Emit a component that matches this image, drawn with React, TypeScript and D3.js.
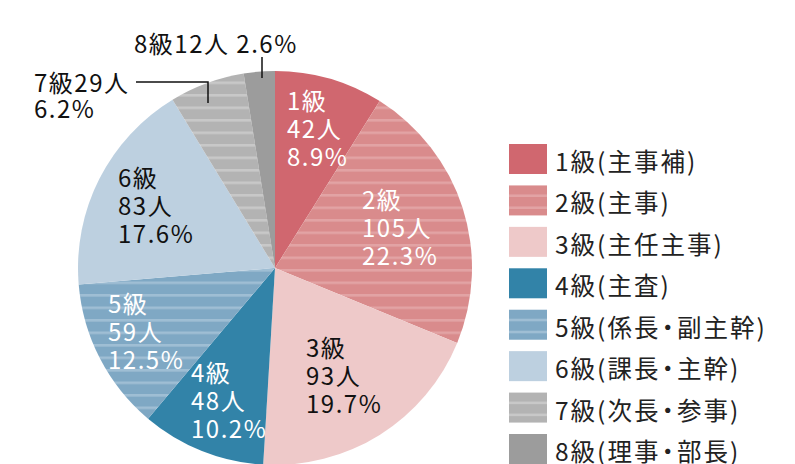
import React from "react";
import * as d3 from "d3";

const grades = ["1級", "2級", "3級", "4級", "5級", "6級", "7級", "8級"];
const counts = [42, 105, 93, 48, 59, 83, 29, 12];
const percents = ["8.9%", "22.3%", "19.7%", "10.2%", "12.5%", "17.6%", "6.2%", "2.6%"];
const legendLabels = [
  "1級(主事補)",
  "2級(主事)",
  "3級(主任主事)",
  "4級(主査)",
  "5級(係長・副主幹)",
  "6級(課長・主幹)",
  "7級(次長・参事)",
  "8級(理事・部長)",
];

const baseColors = ["#d0676f", "#d98b8c", "#eec9c9", "#3283a8", "#7fa8c4", "#bdd0e0", "#b3b3b3", "#9c9c9c"];
const stripeColors = [null, "#e2a3a4", null, null, "#9fbed4", null, "#c8c8c8", null];
const labelColors = ["#fff", "#fff", "#111", "#fff", "#fff", "#111", "#111", "#111"];

const W = 795;
const H = 464;
const cx = 275;
const cy = 268;
const R = 197;
const FONT = "'Noto Sans CJK JP', 'Noto Sans', sans-serif";

// inner label anchor positions (left x, first baseline) for slices 0..5
const innerPos: [number, number][] = [
  [287, 110],
  [362, 209],
  [306, 357],
  [191, 382],
  [108, 313],
  [118, 187],
];
const LH = 28;
const LS = 1.5;

function LegendText({ t, x, y }: { t: string; x: number; y: number }) {
  const parts = t.split("・");
  return (
    <text x={x} y={y} fontSize={24.5} fill="#222" letterSpacing={2}>
      {parts.map((p, i) => (
        <React.Fragment key={i}>
          {i > 0 ? <tspan dx={-5}>・</tspan> : null}
          <tspan dx={i > 0 ? -5 : 0}>{p}</tspan>
        </React.Fragment>
      ))}
    </text>
  );
}

export default function App() {
  const pie = d3.pie<number>().sort(null).value((d) => d);
  const arcs = pie(counts);
  const arc = d3.arc<d3.PieArcDatum<number>>().innerRadius(0).outerRadius(R);

  const legendX = 509;
  const legendY0 = 144;
  const legendStep = 41.43;

  const fills = baseColors.map((c, i) => (stripeColors[i] ? `url(#stripe${i})` : c));

  return (
    <svg width={W} height={H} style={{ position: "absolute", left: 0, top: 0 }} fontFamily={FONT}>
      <defs>
        {baseColors.map((c, i) =>
          stripeColors[i] ? (
            <pattern key={i} id={`stripe${i}`} patternUnits="userSpaceOnUse" x={0} y={1} width={20} height={12.5}>
              <rect x={0} y={0} width={20} height={12.5} fill={c} />
              <rect x={0} y={0} width={20} height={2.6} fill={stripeColors[i] as string} />
            </pattern>
          ) : null
        )}
      </defs>
      <g transform={`translate(${cx},${cy})`}>
        {arcs.map((a, i) => (
          <path key={i} d={arc(a) as string} fill={fills[i]} />
        ))}
      </g>
      {innerPos.map(([x, y], i) => (
        <text key={i} x={x} y={y} fill={labelColors[i]} fontSize={24} letterSpacing={LS}>
          <tspan x={x} y={y}>{grades[i]}</tspan>
          <tspan x={x} y={y + LH}>{counts[i]}人</tspan>
          <tspan x={x} y={y + LH * 2}>{percents[i]}</tspan>
        </text>
      ))}
      {/* 7級 outside label */}
      <text x={34} y={92} fontSize={24} fill="#111" letterSpacing={LS}>
        <tspan x={34} y={92}>{grades[6]}{counts[6]}人</tspan>
        <tspan x={34} y={118}>{percents[6]}</tspan>
      </text>
      <polyline points="136,82 208,82 208,103" fill="none" stroke="#111" strokeWidth={1.5} />
      {/* 8級 outside label */}
      <text x={134} y={53} fontSize={24} fill="#111" letterSpacing={LS}>
        {grades[7]}{counts[7]}人 {percents[7]}
      </text>
      <line x1={262} y1={57} x2={262} y2={78} stroke="#111" strokeWidth={1.5} />
      {/* legend */}
      {legendLabels.map((t, i) => {
        const y = legendY0 + i * legendStep;
        return (
          <g key={i}>
            <rect x={legendX} y={y} width={38} height={30} fill={baseColors[i]} />
            {stripeColors[i] ? (
              <>
                <rect x={legendX} y={y + 9} width={38} height={2.6} fill={stripeColors[i] as string} />
                <rect x={legendX} y={y + 21} width={38} height={2.6} fill={stripeColors[i] as string} />
              </>
            ) : null}
            <LegendText t={t} x={555} y={y + 27} />
          </g>
        );
      })}
    </svg>
  );
}
